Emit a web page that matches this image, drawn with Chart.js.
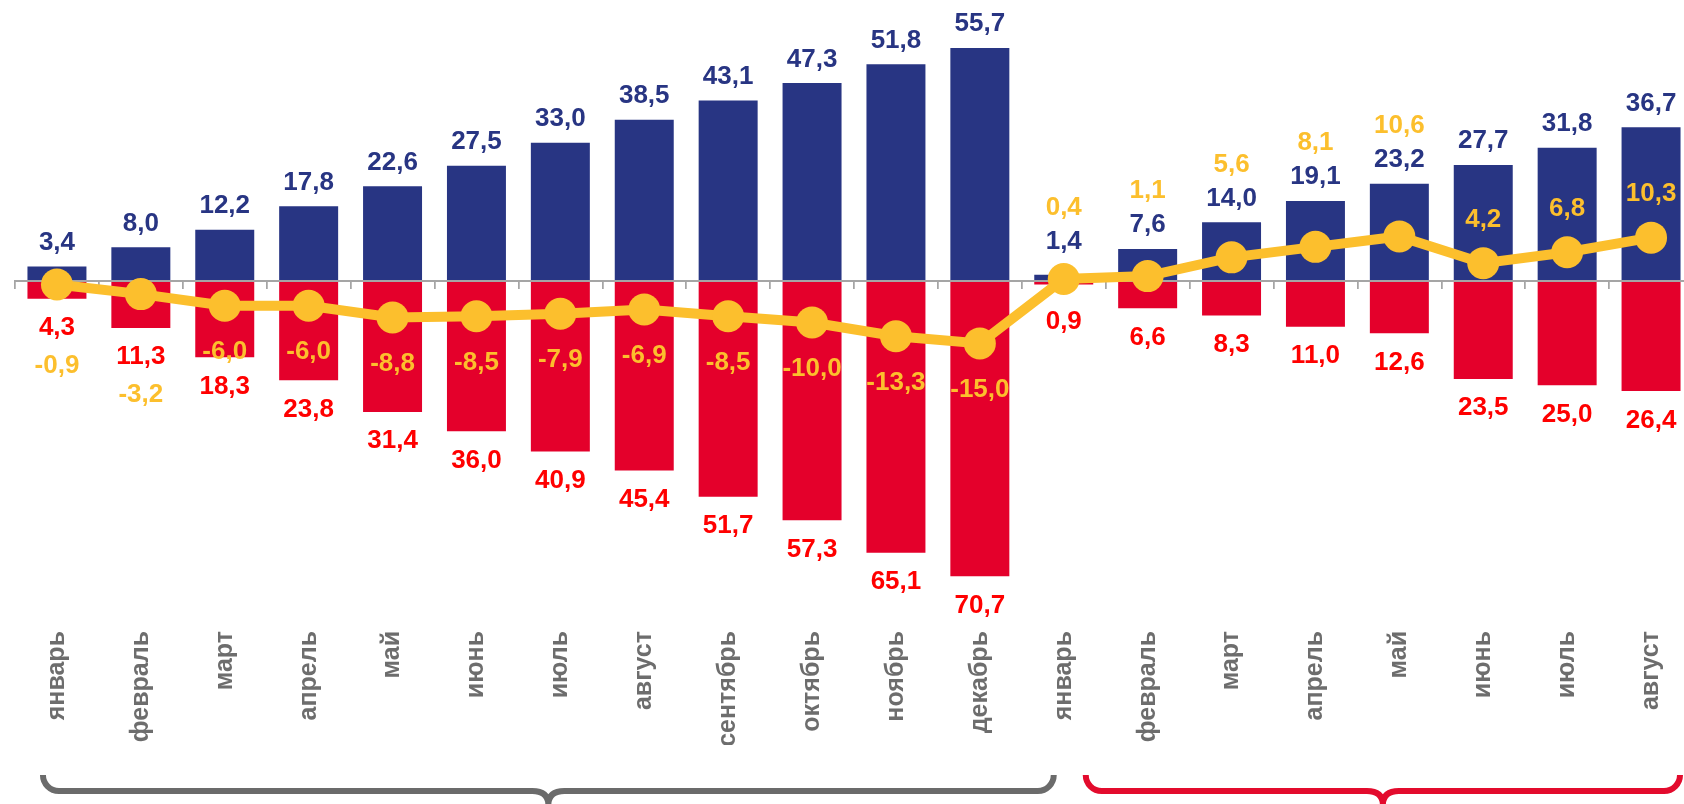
<!DOCTYPE html>
<html lang="ru">
<head>
<meta charset="utf-8">
<title>Доходы, расходы и сальдо</title>
<script src="https://cdn.jsdelivr.net/npm/chart.js@4.4.1/dist/chart.umd.min.js"></script>
<style>
  html, body { margin: 0; padding: 0; background: #fff; overflow: hidden; }
  #wrap { width: 1693px; height: 804px; }
</style>
</head>
<body>
<div id="wrap"><canvas id="chart" width="1693" height="804"></canvas></div>
<script>
// данные
const months = ['январь', 'февраль', 'март', 'апрель', 'май', 'июнь', 'июль', 'август', 'сентябрь', 'октябрь', 'ноябрь', 'декабрь',
                'январь', 'февраль', 'март', 'апрель', 'май', 'июнь', 'июль', 'август'];
const income = [3.4, 8.0, 12.2, 17.8, 22.6, 27.5, 33.0, 38.5, 43.1, 47.3, 51.8, 55.7,
                1.4, 7.6, 14.0, 19.1, 23.2, 27.7, 31.8, 36.7];
const expense = [4.3, 11.3, 18.3, 23.8, 31.4, 36.0, 40.9, 45.4, 51.7, 57.3, 65.1, 70.7,
                 0.9, 6.6, 8.3, 11.0, 12.6, 23.5, 25.0, 26.4];
const balance = [-0.9, -3.2, -6.0, -6.0, -8.8, -8.5, -7.9, -6.9, -8.5, -10.0, -13.3, -15.0,
                 0.4, 1.1, 5.6, 8.1, 10.6, 4.2, 6.8, 10.3];

const FONT = '"Liberation Sans", Arial, sans-serif';
const BLUE = '#283583';
const RED = '#e4002b';
const YELLOW = '#fcbf2d';
const R = 16;

const fmt = v => v.toFixed(1).replace('.', ',');

const valueLabels = {
    id: 'valueLabels',
    afterDatasetDraw(chart, args) {
        // ось поверх столбцов, но под линией
        if (args.index === 0) chart.scales.x.draw(chart.chartArea);
    },
    afterDatasetsDraw(chart) {
        const ctx = chart.ctx;
        const inc = chart.getDatasetMeta(0).data;
        const exp = chart.getDatasetMeta(1).data;
        const pts = chart.getDatasetMeta(2).data;
        ctx.save();
        ctx.font = 'bold 26px ' + FONT;
        ctx.textAlign = 'center';
        ctx.textBaseline = 'alphabetic';
        const put = (txt, x, cy, color) => {
            ctx.fillStyle = color;
            ctx.fillText(txt, x, cy + 9.5);
        };
        months.forEach((m, i) => {
            const x = inc[i].x;
            const py = pts[i].y;
            let yb = inc[i].y - 26;
            if (yb + 24 > py - R) yb = py - R - 24;
            let yr = exp[i].y + 27;
            if (yr - 24 < py + R) yr = py + R + 24;
            let yy;
            if (balance[i] >= 0) {
                yy = py - 46;
                if (Math.abs(yy - yb) < 35) yy = yb - 34;
            } else {
                yy = py + 44;
                if (Math.abs(yy - yr) < 28) yy = yr + 38;
            }
            put(fmt(income[i]), x, yb, BLUE);
            put(fmt(expense[i]), x, yr, '#ff0000');
            put(fmt(balance[i]), x, yy, YELLOW);
        });
        ctx.restore();
    }
};

function drawBrace(ctx, x0, x1, color) {
    const yTip = 775, yLine = 791, yCusp = 805, r = 16;
    const xm = (x0 + x1) / 2;
    ctx.beginPath();
    ctx.moveTo(x0, yTip);
    ctx.arcTo(x0, yLine, x0 + r, yLine, r);
    ctx.lineTo(xm - r, yLine);
    ctx.quadraticCurveTo(xm, yLine, xm, yCusp);
    ctx.quadraticCurveTo(xm, yLine, xm + r, yLine);
    ctx.lineTo(x1 - r, yLine);
    ctx.arcTo(x1, yLine, x1, yTip, r);
    ctx.lineTo(x1, yTip);
    ctx.strokeStyle = color;
    ctx.lineWidth = 6;
    ctx.stroke();
}

const braces = {
    id: 'braces',
    afterDraw(chart) {
        const x = chart.scales.x;
        const ctx = chart.ctx;
        ctx.save();
        drawBrace(ctx, x.getPixelForValue(0) - 14, x.getPixelForValue(12) - 10, '#6b6b6b');
        drawBrace(ctx, x.getPixelForValue(12) + 22, Math.min(x.getPixelForValue(19) + 30, 1680), '#e30b2d');
        ctx.restore();
    }
};

new Chart(document.getElementById('chart'), {
    data: {
        labels: months,
        datasets: [
            {
                type: 'bar',
                label: 'Доходы',
                data: income,
                backgroundColor: BLUE,
                barPercentage: 0.703,
                categoryPercentage: 1,
                order: 1
            },
            {
                type: 'bar',
                label: 'Расходы',
                data: expense.map(v => -v),
                backgroundColor: RED,
                barPercentage: 0.703,
                categoryPercentage: 1,
                order: 2
            },
            {
                type: 'line',
                label: 'Сальдо',
                data: balance,
                borderColor: YELLOW,
                backgroundColor: YELLOW,
                borderWidth: 10,
                pointRadius: R,
                pointHoverRadius: R,
                pointBorderWidth: 0,
                tension: 0,
                clip: false,
                order: 0
            }
        ]
    },
    options: {
        responsive: false,
        animation: false,
        layout: {autoPadding: false, padding: {left: 15, right: 0, top: 30, bottom: 59}},
        plugins: {
            legend: {display: false},
            tooltip: {enabled: false}
        },
        scales: {
            x: {
                stacked: true,
                position: {y: 0},
                offset: true,
                ticks: {display: false},
                grid: {offset: true, drawOnChartArea: false, drawTicks: true, tickLength: 7, color: '#a5a5a5', lineWidth: 1.5},
                border: {color: '#a5a5a5', width: 2}
            },
            x2: {
                type: 'category',
                position: 'bottom',
                offset: true,
                grid: {display: false, drawTicks: false},
                border: {display: false},
                ticks: {
                    autoSkip: false,
                    minRotation: 90,
                    maxRotation: 90,
                    padding: 16,
                    color: '#6d6d6d',
                    font: {family: FONT, size: 25, weight: 'bold'}
                },
                afterFit(scale) {
                    scale.height = 130;
                    scale.paddingLeft = 0;
                    scale.paddingRight = 0;
                }
            },
            y: {display: false, min: -80, max: 60}
        }
    },
    plugins: [valueLabels, braces]
});
</script>
</body>
</html>
